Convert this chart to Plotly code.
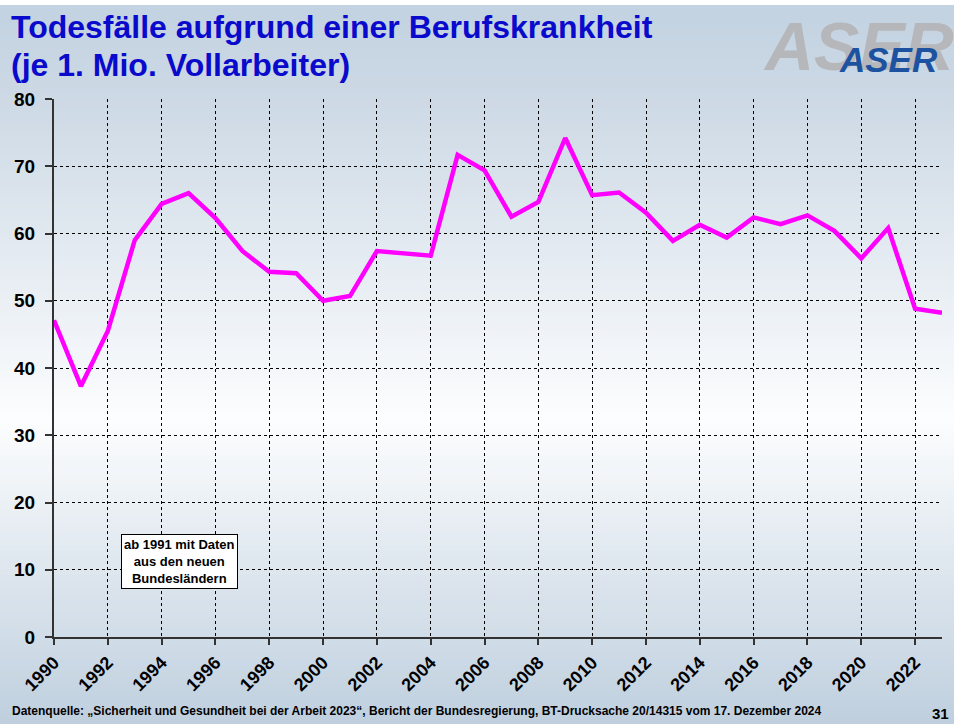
import plotly.graph_objects as go

years = list(range(1990, 2024))
values = [47.1, 37.3, 45.5, 59.0, 64.4, 66.0, 62.3, 57.4, 54.3, 54.1,
          50.0, 50.7, 57.4, 57.1, 56.7, 71.7, 69.4, 62.5, 64.7, 74.2,
          65.7, 66.1, 63.1, 58.9, 61.3, 59.4, 62.4, 61.4, 62.7, 60.4,
          56.3, 60.8, 48.8, 48.2]
x_ticks = list(range(1990, 2023, 2))
y_ticks = list(range(0, 81, 10))

title_line1 = "Todesfälle aufgrund einer Berufskrankheit"
title_line2 = "(je 1. Mio. Vollarbeiter)"
note_text = "ab 1991 mit Daten<br>aus den neuen<br>Bundesländern"
source_text = ("Datenquelle: „Sicherheit und Gesundheit bei der Arbeit 2023“, Bericht der "
               "Bundesregierung, BT-Drucksache 20/14315 vom 17. Dezember 2024")

W, H = 954, 724
L, R, T, B = 54, 12, 99, 87
pw, ph = W - L - R, H - T - B

def px_to_paper(px, py):
    return (px - L) / pw, (H - B - py) / ph

FONT = "Liberation Sans, Arial, sans-serif"

# background gradient (styling)
stops = [(0, (0xc2, 0xd2, 0xe1)), (100, (0xcd, 0xd9, 0xe5)), (420, (0xfc, 0xfd, 0xfe)),
         (724, (0xbf, 0xcf, 0xde))]

def col_at(py):
    for (a, ca), (b, cb) in zip(stops[:-1], stops[1:]):
        if a <= py <= b:
            t = (py - a) / (b - a)
            c = [round(ca[i] + (cb[i] - ca[i]) * t) for i in range(3)]
            return "rgb(%d,%d,%d)" % tuple(c)
    return "rgb(255,255,255)"

shapes = []
step = 6
for py in range(5, H, step):
    x0, y1 = px_to_paper(0, py)
    x1, y0 = px_to_paper(W, min(py + step + 1, H))
    shapes.append(dict(type="rect", xref="paper", yref="paper", x0=x0, x1=x1, y0=y0, y1=y1,
                       fillcolor=col_at(py + step / 2), line=dict(width=0), layer="below"))

fig = go.Figure()
fig.add_trace(go.Scatter(x=years, y=values, mode="lines",
                         line=dict(color="#ff00ff", width=4.5), hoverinfo="x+y"))

annotations = []
for text, top in [(title_line1, 7), (title_line2, 45)]:
    tx, ty = px_to_paper(9, top)
    annotations.append(dict(text="<b>" + text + "</b>", x=tx, y=ty, xref="paper", yref="paper",
                            xanchor="left", yanchor="top", showarrow=False, align="left",
                            font=dict(family=FONT, size=32, color="#0a0acc")))
gx, gy = px_to_paper(858, 46)
annotations.append(dict(text="<b><i>ASER</i></b>", x=gx, y=gy, xref="paper", yref="paper",
                        xanchor="center", yanchor="middle", showarrow=False,
                        font=dict(family=FONT, size=68, color="#b5b7ba")))
bx, by = px_to_paper(888, 60)
annotations.append(dict(text="<b><i>ASER</i></b>", x=bx, y=by, xref="paper", yref="paper",
                        xanchor="center", yanchor="middle", showarrow=False,
                        font=dict(family=FONT, size=35, color="#1c52a0")))
annotations.append(dict(text="<b>" + note_text + "</b>", x=1994.65, y=11.3, xref="x", yref="y",
                        xanchor="center", yanchor="middle", showarrow=False, align="center",
                        bgcolor="white", bordercolor="black", borderwidth=1, borderpad=2,
                        font=dict(family=FONT, size=13, color="black")))
sx, sy = px_to_paper(10, 711)
annotations.append(dict(text="<b>" + source_text + "</b>", x=sx, y=sy, xref="paper", yref="paper",
                        xanchor="left", yanchor="middle", showarrow=False,
                        font=dict(family=FONT, size=12, color="black")))
nx, ny = px_to_paper(951, 713)
annotations.append(dict(text="<b>31</b>", x=nx, y=ny, xref="paper", yref="paper",
                        xanchor="right", yanchor="middle", showarrow=False,
                        font=dict(family=FONT, size=15, color="black")))

fig.update_layout(
    width=W, height=H,
    margin=dict(l=L, r=R, t=T, b=B, pad=0),
    paper_bgcolor="white", plot_bgcolor="rgba(0,0,0,0)",
    showlegend=False,
    shapes=shapes,
    annotations=annotations,
    font=dict(family=FONT, color="black"),
)
fig.update_xaxes(range=[1990, 2023], tickmode="array", tickvals=x_ticks,
                 ticktext=["<b>%d</b>" % v for v in x_ticks], tickangle=-45,
                 tickfont=dict(family=FONT, size=18, color="black"),
                 showgrid=True, gridcolor="black", griddash="dot", gridwidth=1,
                 showline=True, linecolor="#333333", linewidth=2,
                 ticks="outside", ticklen=6, tickcolor="#333333", tickwidth=2,
                 zeroline=False, fixedrange=True)
fig.update_yaxes(range=[0, 80], tickmode="array", tickvals=y_ticks,
                 ticktext=["<b>%d</b>" % v for v in y_ticks],
                 tickfont=dict(family=FONT, size=19, color="black"),
                 showgrid=True, gridcolor="black", griddash="dot", gridwidth=1,
                 showline=True, linecolor="#333333", linewidth=2,
                 ticks="outside", ticklen=7, tickcolor="#333333", tickwidth=2,
                 ticklabelstandoff=6,
                 zeroline=False, fixedrange=True)

fig.write_html("out.html", config={"displayModeBar": False},
               post_script="document.body.style.margin='0';document.body.style.overflow='hidden';")
